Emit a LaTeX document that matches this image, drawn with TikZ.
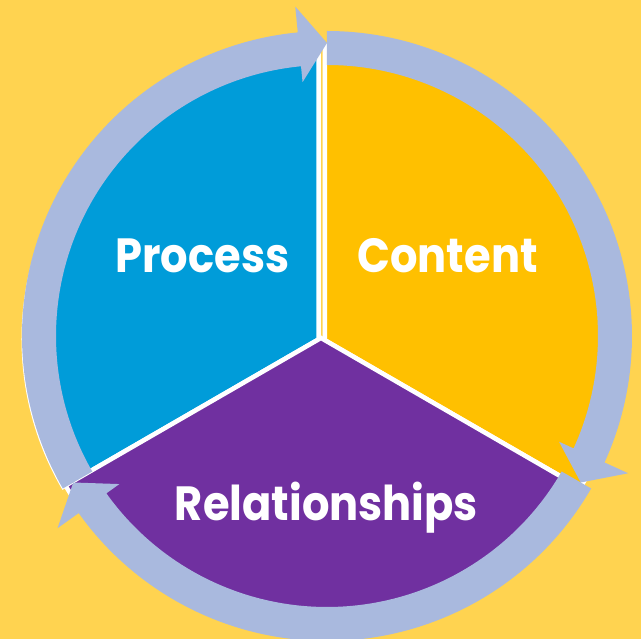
\documentclass[tikz,border=0pt]{standalone}
\usepackage{fontspec}
\setmainfont[FakeStretch=0.9]{Poppins}
\usetikzlibrary{positioning,calc}

\definecolor{bgyellow}{HTML}{FFD350}
\definecolor{procblue}{HTML}{009CD9}
\definecolor{contgold}{HTML}{FFC000}
\definecolor{relpurple}{HTML}{7030A0}
\definecolor{ringblue}{HTML}{A9B9DE}

\begin{document}
\begin{tikzpicture}[
  x=1pt, y=1pt,
  sector/.style={draw=white, line width=4.5pt, line join=miter},
  ringarr/.style={fill=ringblue},
  lbl/.style={text=white, anchor=base, inner sep=0pt,
              font=\fontsize{48}{48}\selectfont\bfseries},
]
\clip (-327,-303) rectangle (314,336);
\fill[bgyellow] (-327,-303) rectangle (314,336);

% sector tips, each slid a little along its lower edge
\coordinate (o)  at (-6,-2);
\coordinate (ob) at ($(o)+(210:2.6)$);
\coordinate (oc) at ($(o)+(-30:4.5)$);

\path[sector, fill=procblue]  (ob) -- ++(90:295)  arc[start angle=90,  end angle=210, radius=295] -- cycle;
\path[sector, fill=contgold]  (oc) -- ++(-30:295) arc[start angle=-30, end angle=90,  radius=295] -- cycle;
\path[sector, fill=relpurple] (o)  -- ++(210:295) arc[start angle=210, end angle=330, radius=295] -- cycle;

% cycle ring: three arcs, each ending in a head
\foreach \a in {210,90,-30}{
  \pgfmathsetmacro\b{\a-114.5}
  \pgfmathsetmacro\e{\a-120}
  \fill[ringarr] (\a:305) arc[start angle=\a, end angle=\b, radius=305]
    -- (\b:331) -- (\e:293) -- (\b:255) -- (\b:271)
    arc[start angle=\b, end angle=\a, radius=271] -- cycle;
}

\node[lbl] (proc) at (-124.5,63)  {Process};
\node[lbl] (cont) at (120.5,63)   {Content};
\node[lbl] (rel)  at (-0.5,-185)  {Relationships};
\end{tikzpicture}
\end{document}
